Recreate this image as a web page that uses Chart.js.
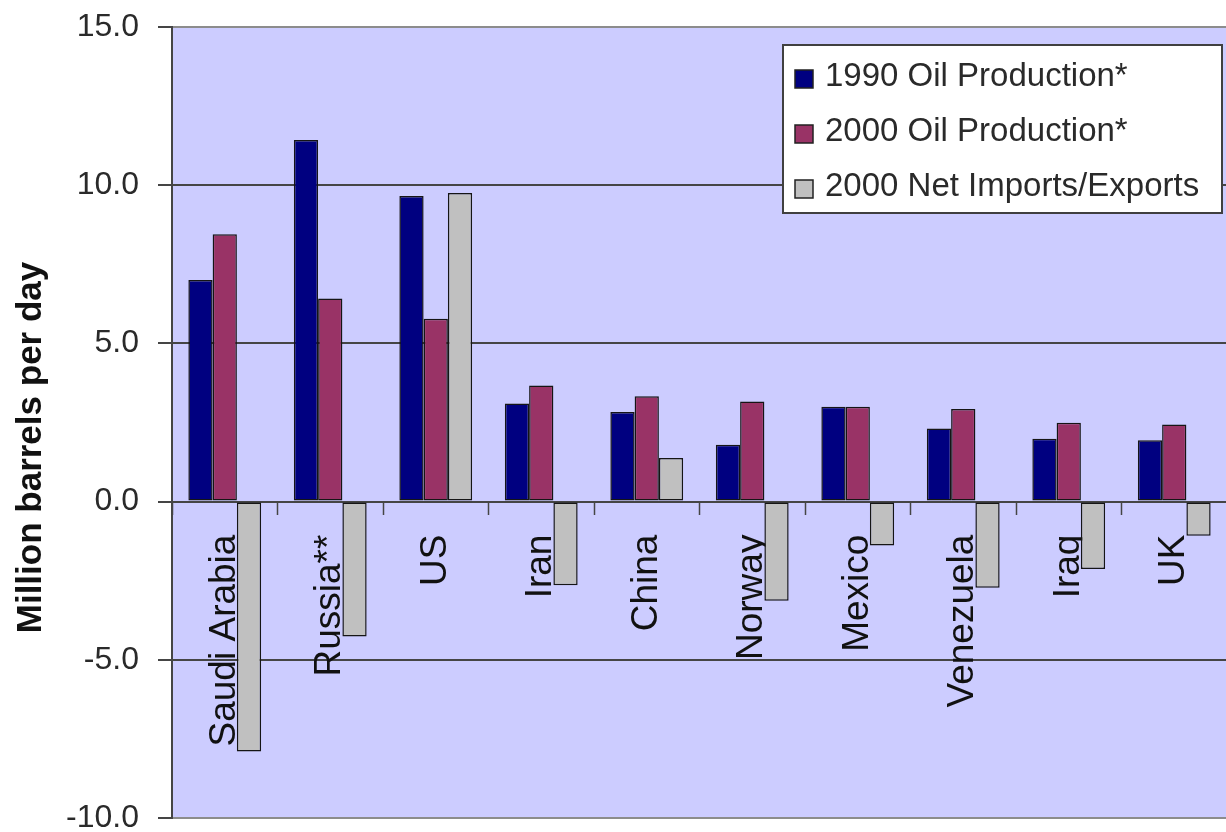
<!DOCTYPE html>
<html>
<head>
<meta charset="utf-8">
<title>Oil production and net trade by country</title>
<script src="https://cdn.jsdelivr.net/npm/chart.js@4.4.1/dist/chart.umd.min.js"></script>
<style>
  html, body { margin: 0; padding: 0; background: #ffffff; overflow: hidden; }
  #wrap { width: 1250px; height: 840px; }
</style>
</head>
<body>
<div id="wrap"><canvas id="chart" width="1250" height="840"></canvas></div>
<script>
// Country categories (x axis)
const countries = ['Saudi Arabia', 'Russia**', 'US', 'Iran', 'China', 'Norway', 'Mexico', 'Venezuela', 'Iraq', 'UK'];

// Million barrels per day
const production1990 = [7.0, 11.43, 9.66, 3.1, 2.83, 1.8, 3.0, 2.31, 1.99, 1.94];
const production2000 = [8.45, 6.42, 5.78, 3.67, 3.33, 3.16, 3.0, 2.93, 2.49, 2.44];
const netImportsExports = [-7.9, -4.26, 9.75, -2.64, 1.38, -3.13, -1.39, -2.72, -2.13, -1.08];

const seriesLabels = ['1990 Oil Production*', '2000 Oil Production*', '2000 Net Imports/Exports'];
const seriesColors = ['#000080', '#993366', '#C0C0C0'];

// Value axis range and tick step
const yMin = -10;
const yMax = 15;
const yStep = 5;
const yTitle = 'Million barrels per day';

const FONT = '"Liberation Sans", Arial, sans-serif';

// Lavender plot background
const plotBackground = {
  id: 'plotBackground',
  beforeDraw(chart) {
    const { ctx, chartArea: a } = chart;
    ctx.save();
    ctx.fillStyle = '#CCCCFF';
    ctx.fillRect(a.left, a.top, a.right - a.left, a.bottom - a.top);
    ctx.restore();
  }
};

// Vertical value-axis title, centred a little below the plot middle
const valueTitle = {
  id: 'valueTitle',
  afterDraw(chart) {
    const { ctx, chartArea: a } = chart;
    ctx.save();
    ctx.translate(31, (a.top + a.bottom) / 2 + 25);
    ctx.rotate(-Math.PI / 2);
    ctx.font = 'bold 35px ' + FONT;
    ctx.fillStyle = '#111111';
    ctx.textAlign = 'center';
    ctx.textBaseline = 'middle';
    ctx.fillText(yTitle, 0, 0);
    ctx.restore();
  }
};

// Boxed legend in the upper right corner of the plot
const boxedLegend = {
  id: 'boxedLegend',
  afterDraw(chart) {
    const { ctx, chartArea: a } = chart;
    const sets = chart.data.datasets;
    const boxW = 439, rowH = 55;
    const left = a.right - 444;
    const top = a.top + 18;
    const boxH = rowH * sets.length + 3;
    ctx.save();
    ctx.fillStyle = '#ffffff';
    ctx.fillRect(left, top, boxW, boxH);
    ctx.strokeStyle = '#404040';
    ctx.lineWidth = 2;
    ctx.strokeRect(left, top, boxW, boxH);
    ctx.font = '33px ' + FONT;
    ctx.textAlign = 'left';
    ctx.textBaseline = 'alphabetic';
    sets.forEach((ds, i) => {
      const rowTop = top + 25 + i * rowH;
      ctx.fillStyle = ds.backgroundColor;
      ctx.fillRect(left + 12, rowTop, 18, 18);
      ctx.strokeStyle = '#222222';
      ctx.lineWidth = 1.5;
      ctx.strokeRect(left + 12, rowTop, 18, 18);
      ctx.fillStyle = '#2a2a2a';
      ctx.fillText(ds.label, left + 42, rowTop + 16);
    });
    ctx.restore();
  }
};

const seriesData = [production1990, production2000, netImportsExports];

new Chart(document.getElementById('chart'), {
  type: 'bar',
  data: {
    labels: countries,
    datasets: seriesData.map((values, i) => ({
      label: seriesLabels[i],
      data: values,
      backgroundColor: seriesColors[i],
      borderColor: '#151515',
      borderWidth: 1.5,
      borderSkipped: false,
      categoryPercentage: 0.69,
      barPercentage: 1.0
    }))
  },
  options: {
    responsive: false,
    animation: false,
    devicePixelRatio: 1,
    layout: { padding: { left: 0, top: 27, right: 23, bottom: 22 } },
    plugins: {
      legend: { display: false },
      tooltip: { enabled: false },
      title: { display: false }
    },
    scales: {
      y: {
        position: 'left',
        min: yMin,
        max: yMax,
        afterFit(scale) {
          // fixed axis gutter; the end labels may overhang the plot edges
          scale.width = 172;
          scale.paddingTop = 0;
          scale.paddingBottom = 0;
        },
        ticks: {
          stepSize: yStep,
          padding: 19,
          color: '#2a2a2a',
          font: { family: FONT, size: 32 },
          callback: (v) => Number(v).toFixed(1)
        },
        grid: {
          color: (c) => (c.tick && (c.tick.value === yMax || c.tick.value === yMin)) ? '#8c8c8c' : '#454545',
          lineWidth: 2,
          tickLength: 14,
          tickColor: '#454545',
          tickWidth: 2
        },
        border: { display: true, color: '#454545', width: 2 }
      },
      x: {
        position: { y: 0 },
        z: 1,
        offset: true,
        ticks: {
          autoSkip: false,
          minRotation: 90,
          maxRotation: 90,
          padding: 21,
          color: '#111111',
          font: { family: FONT, size: 37 }
        },
        grid: {
          offset: true,
          drawOnChartArea: false,
          drawTicks: true,
          tickLength: 12,
          tickColor: '#454545',
          tickWidth: 1.5
        },
        border: { display: true, color: '#454545', width: 2 }
      }
    }
  },
  plugins: [plotBackground, valueTitle, boxedLegend]
});
</script>
</body>
</html>
